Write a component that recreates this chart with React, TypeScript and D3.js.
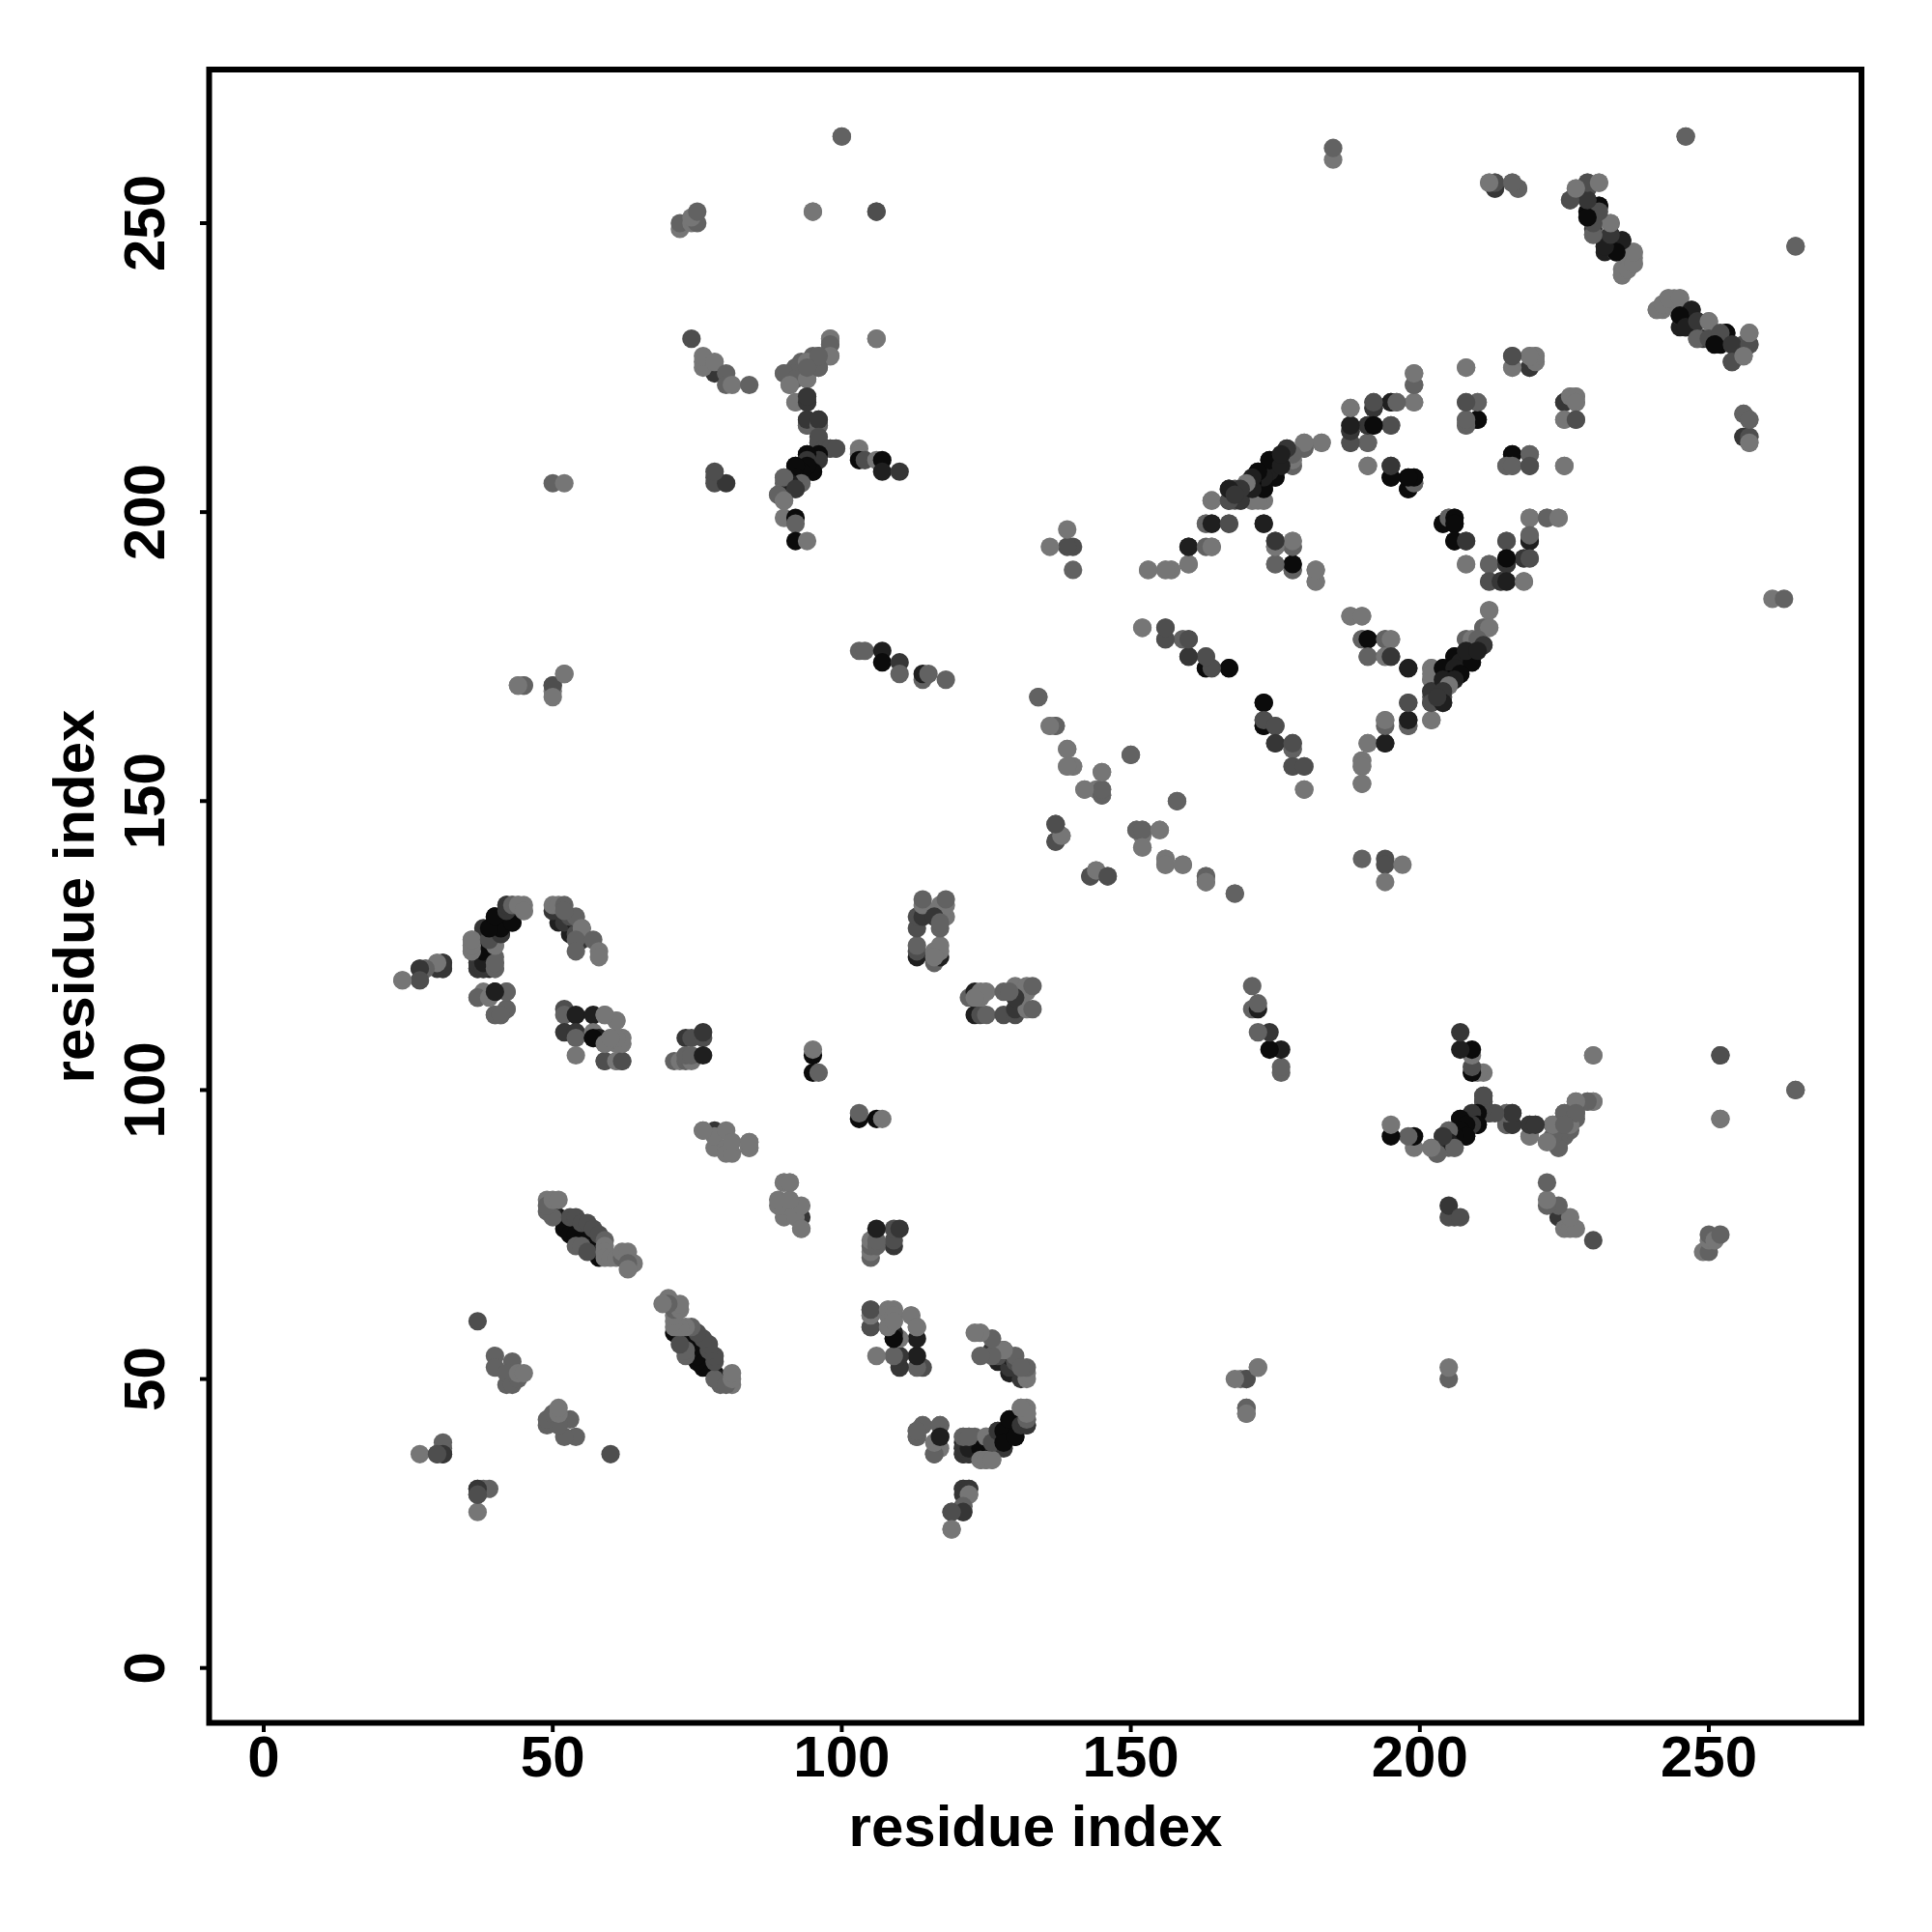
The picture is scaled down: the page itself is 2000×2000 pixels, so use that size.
import React from 'react';
import * as d3 from 'd3';

type C = [number, number, number];
// Each contact [i, j, strength level 1..6]; drawn at (i,j) and (j,i)
const tickValues = [0, 50, 100, 150, 200, 250];
const axisLabel = 'residue index';

const nearDiagonal: C[] = [
  [27,37,1],[30,37,3],[31,37,4],[31,38,2],[31,39,2],[37,31,4],[37,30,3],
  [37,60,3],[40,54,2],[40,52,2],[43,53,2],[42,49,2],[43,50,2],[42,51,2],[43,49,2],[44,50,2],[44,51,1],[45,51,1],
  [95,106,6],[95,107,1],[95,103,6],[96,103,2],
];
const helixOne: C[] = [
  [51,78,6],[50,79,5],[52,76,6],[52,77,6],[53,75,6],[54,75,6],[55,74,6],[56,74,6],[57,73,6],[58,72,6],[58,71,6],[54,73,2],[55,73,2],[56,72,3],
  [49,79,2],[50,78,2],[53,78,3],[54,78,3],[55,77,3],[56,77,3],[57,76,3],[58,75,3],[59,74,2],[59,73,1],[59,72,1],[59,71,1],[60,71,1],[61,71,1],
  [49,81,1],[49,80,2],[50,81,1],[51,81,1],[62,71,2],[62,72,1],[63,72,1],[64,70,1],[63,70,2],[63,69,1],
];
const helixTwo: C[] = [
  [37,121,5],[37,122,5],[38,121,5],[39,121,5],[38,122,4],[39,122,5],[40,121,2],[40,122,2],[40,123,2],[36,124,1],[36,125,1],[36,126,1],[37,124,2],[38,125,3],[40,125,1],[39,125,2],
  [38,127,4],[38,128,4],[41,127,6],[40,128,5],[40,130,6],[41,129,6],[42,129,6],[43,129,5],[42,132,4],[43,132,2],[44,132,1],[45,131,1],[45,132,1],[24,119,1],[27,119,2],[27,121,3],[28,121,2],[30,122,1],[30,121,4],[31,122,4],[31,121,4],
  [37,116,2],[38,117,1],[40,117,5],[42,117,3],[42,114,2],[41,113,2],[40,113,2],
];
const helixThree: C[] = [
  [53,127,5],[51,129,5],[50,131,4],[52,129,4],[54,129,5],[54,127,3],[55,128,5],[55,126,4],[53,130,3],[54,130,2],[50,132,1],[51,132,1],[52,132,2],[52,131,2],[55,128,1],
  [54,126,2],[54,124,2],[57,126,2],[58,124,1],[58,123,1],
  [52,114,3],[52,113,2],[54,113,5],[52,110,4],[54,110,4],[54,109,2],[54,106,1],[57,113,5],[59,113,1],[61,112,1],
  [58,109,4],[57,109,6],[57,110,1],[59,105,3],[59,108,1],[60,109,1],[61,109,1],[61,108,1],[62,109,1],[62,108,1],[61,105,1],[62,105,3],
  [73,109,4],[74,109,3],[76,109,3],[76,110,4],[71,105,2],[72,105,1],[73,105,2],[74,105,1],[73,106,2],[74,106,2],[76,106,5],
];
const centreGroup: C[] = [
  [93,76,2],[93,78,4],[90,78,1],[92,78,1],[76,93,1],[80,93,1],[80,90,1],[80,89,1],[81,89,1],[81,91,1],[84,90,2],[84,91,1],[90,84,1],[91,84,1],
  [113,123,5],[113,124,3],[113,125,2],[113,128,3],[113,130,3],[114,130,4],[114,132,1],[114,133,2],
  [116,122,2],[117,123,5],[116,124,1],[117,124,1],[117,125,1],[117,128,2],[117,130,5],[117,132,1],[118,130,1],[118,132,1],[118,133,2],[116,123,1],
  [116,130,4],[117,129,2],
];
const lowerGroup: C[] = [
  [105,59,3],[105,61,1],[105,62,3],[109,58,5],[109,57,6],[108,62,1],[109,62,1],[109,61,1],[108,59,1],[109,60,1],[112,61,1],[113,59,1],
  [116,37,2],[116,39,1],[113,40,2],[114,42,2],[117,42,2],[117,40,5],[113,41,2],
  [121,37,4],[122,37,4],[121,38,4],[122,38,5],[124,38,6],[121,40,2],[122,40,2],[124,36,1],[125,36,1],[126,36,1],[125,40,1],[126,39,3],[127,41,4],[128,41,6],[128,39,6],[129,43,6],[130,40,6],[131,42,4],[132,42,4],[132,43,2],[132,44,1],[131,45,1],
  [121,31,4],[122,31,4],[122,30,1],[121,28,2],[121,27,4],[119,27,3],[119,24,1],
  [206,78,3],
];
const sheetLeft: C[] = [
  [103,176,2],[104,176,2],[107,176,5],[107,174,6],[110,174,4],[110,172,2],[114,171,2],[114,172,5],[115,172,2],[118,171,2],
  [44,170,1],[45,170,2],[50,169,1],[50,170,2],[52,172,1],[50,205,2],[52,205,1],
  [170,50,3],[172,52,1],[168,50,1],[170,45,2],[170,44,1],[78,205,3],[80,205,4],[78,207,3],
  [72,249,1],[72,250,2],[74,250,1],[75,250,2],[74,251,1],[75,252,2],[95,252,1],[106,252,3],[100,265,2],[246,265,2],[185,261,1],[185,263,2],
  [74,230,3],[78,224,4],[76,225,1],[76,226,1],[76,227,1],[78,226,1],[80,224,2],[80,222,2],[81,222,1],[84,222,2],
];
const starGroup: C[] = [
  [98,230,1],[98,229,1],[106,230,1],[98,227,2],[95,227,2],[96,227,2],[96,225,3],[94,225,3],[92,225,2],[93,226,2],[93,224,3],[92,224,2],[91,224,2],[90,224,1],[91,222,1],[94,223,2],
  [92,219,1],[94,220,4],[94,219,4],[94,216,4],[94,215,3],[96,216,4],[96,215,2],[96,212,3],[96,211,3],[98,211,3],[99,211,3],
  [96,210,6],[94,210,6],[95,207,6],[93,207,5],[92,208,6],[91,206,6],[93,206,5],[90,206,1],[90,205,2],[92,204,3],[93,205,1],[89,203,1],[90,202,1],
  [90,199,1],[92,199,6],[92,198,2],[92,195,6],[94,195,1],
  [103,211,1],[103,210,1],[103,209,6],[104,209,3],[106,209,1],[107,209,6],[107,207,5],[110,207,4],
];
const arcGroup: C[] = [
  [174,209,6],[175,209,5],[176,209,5],[172,207,6],[175,206,6],[173,205,6],[173,204,6],[171,205,5],[171,204,6],[170,205,1],[167,204,5],[168,204,3],[169,204,4],[174,207,5],
  [167,202,5],[168,202,3],[169,202,4],[170,203,2],[171,202,1],[173,202,1],[164,202,1],[177,211,4],[178,210,2],[178,209,1],[178,208,2],[180,212,1],[180,211,2],[183,212,1],
  [163,198,2],[164,198,5],[167,198,3],[173,198,5],[160,194,5],[164,194,1],[160,191,2],[153,190,1],[156,190,1],[157,190,1],
  [175,195,4],[175,194,3],[178,195,1],[178,194,3],[175,191,2],[178,190,3],[178,191,6],[182,190,1],[182,188,1],
  [152,180,1],[156,178,3],[156,180,2],[159,178,1],[160,178,4],[160,175,4],[163,175,2],[163,173,6],[164,173,3],[167,173,6],
  [134,168,2],[136,163,1],[137,163,2],[139,159,1],[139,156,1],[140,156,1],[145,155,1],[142,152,1],[144,152,1],[145,152,2],[145,151,2],[150,158,2],[158,150,2],
  [137,146,3],[137,143,3],[138,144,1],[143,137,3],[144,138,1],[146,137,3],[151,145,2],[152,145,2],[155,145,1],[152,142,1],[156,140,1],[156,139,1],[159,139,1],[163,137,2],[163,136,1],[168,134,2],
  [173,167,6],[173,163,6],[173,164,3],[175,163,3],[175,160,4],[178,159,2],[178,160,3],[178,156,3],[180,156,3],[180,152,1],
  [190,157,1],[190,156,1],[190,153,1],[191,160,1],[194,160,5],[194,163,2],[194,164,1],[198,163,2],[198,164,5],[198,167,3],[202,164,1],
  [190,140,2],[194,140,3],[194,139,3],[197,139,1],[194,136,1],
];
const upperGroup: C[] = [
  [188,218,1],[188,215,5],[188,214,5],[188,212,3],[191,215,6],[192,215,6],[195,215,3],[191,212,2],[192,219,3],[192,218,4],[195,219,5],[196,219,2],[199,219,1],[199,222,2],[199,224,1],
  [191,208,1],[195,206,6],[195,208,4],[198,204,6],[199,205,2],[198,206,6],[199,206,5],
  [208,225,1],[208,219,2],[210,219,1],[208,215,1],[208,216,2],[210,216,6],
  [216,227,3],[216,225,1],[219,225,4],[219,227,1],[220,227,1],[220,226,1],[225,219,4],[226,220,1],[227,220,1],[227,219,1],[225,216,1],[227,216,3],
  [216,210,6],[219,210,2],[215,208,2],[216,208,2],[219,208,3],[225,208,1],
  [204,198,6],[205,199,2],[206,199,6],[206,198,6],[206,195,6],[208,195,4],[219,199,1],[222,199,2],[224,199,1],
  [215,195,3],[219,195,5],[219,196,2],[218,192,4],[219,192,3],[208,191,1],[212,191,2],[215,191,4],[215,192,6],[212,188,3],[214,188,4],[215,188,5],[218,188,1],
  [188,182,1],[190,182,1],[190,178,2],[191,178,6],[194,178,2],[195,178,1],[191,175,2],[194,175,1],[195,175,4],[198,173,5],
  [212,183,1],[211,180,2],[212,180,1],[208,178,2],[209,178,1],[210,178,2],[209,176,2],[211,177,4],[206,175,6],[207,174,5],[209,174,6],[208,176,5],[210,176,5],
  [202,173,1],[202,171,1],[202,172,1],[202,169,4],[202,167,3],[204,173,6],[206,173,5],[205,171,6],[204,171,5],[207,172,6],[206,171,5],[205,170,1],[204,169,4],[204,167,5],[203,168,4],
];
const cTerminal: C[] = [
  [212,257,1],[213,257,2],[213,256,3],[216,257,2],[217,256,2],[256,217,2],[256,213,4],[257,213,3],[257,216,2],[257,212,1],
  [226,254,3],[227,256,1],[229,256,3],[229,257,2],[231,257,1],[229,252,6],[229,254,3],[231,253,6],[230,251,5],[231,251,4],[230,249,4],[230,248,2],[232,247,5],[232,246,6],[232,245,5],[233,248,4],[233,250,1],[235,247,4],[234,245,3],[236,244,2],[237,245,1],[237,244,1],[236,243,1],[235,242,1],[235,241,1],[237,243,1],[235,245,1],
];
const tailContacts: C[] = [
  [230,106,1],[230,98,1],[229,98,2],[227,98,1],[225,92,2],[224,92,2],[224,90,2],[223,92,2],[222,91,1],[223,94,1],[226,94,1],[225,96,2],[227,96,2],[225,94,2],
  [219,92,1],[219,94,4],[220,94,4],[215,94,2],[216,94,4],[215,96,2],[216,96,4],[212,96,3],[213,96,3],[211,97,3],[211,98,3],[211,99,3],
  [210,96,6],[209,96,4],[210,94,6],[209,94,4],[207,95,6],[208,94,6],[207,93,6],[208,92,6],[206,92,6],[205,93,2],[205,91,5],[206,90,2],[204,92,4],[203,89,2],[202,90,1],
  [234,245,2],[241,235,1],[242,236,1],[243,237,1],[245,237,1],[247,235,5],[245,234,6],[246,232,5],[248,233,4],[250,233,1],[248,230,2],[250,230,3],[253,231,6],[252,231,3],[251,229,6],[254,229,4],[254,226,3],[257,229,3],[257,231,1],[256,227,1],
  [252,106,3],[252,95,1],[265,100,2],[265,246,2],
];

const allGroups = [nearDiagonal, helixOne, helixTwo, helixThree, centreGroup, lowerGroup, sheetLeft, starGroup, arcGroup, upperGroup, cTerminal, tailContacts];

const grey = d3.scaleOrdinal<number, string>().domain([1, 2, 3, 4, 5, 6]).range(['#767676', '#626262', '#4e4e4e', '#363636', '#1f1f1f', '#0b0b0b']);
const x = d3.scaleLinear().domain([0, 250]).range([273, 1769]);
const y = d3.scaleLinear().domain([0, 250]).range([1726.7, 231]);
const font = '"Liberation Sans", Arial, sans-serif';

export default function App() {
  const pts: { px: number; py: number; c: string }[] = [];
  allGroups.forEach(g => g.forEach(([a, b, s]) => {
    pts.push({ px: x(a), py: y(b), c: grey(s) });
    pts.push({ px: x(b), py: y(a), c: grey(s) });
  }));
  return (
    <svg width={2000} height={2000} style={{ position: 'absolute', left: 0, top: 0, background: '#fff' }}>
      {pts.map((p, i) => <circle key={i} cx={p.px} cy={p.py} r={9.6} fill={p.c} />)}
      <rect x={216.5} y={72} width={1710.5} height={1711.5} fill="none" stroke="#000" strokeWidth={6} />
      {tickValues.map(t => (
        <g key={t}>
          <line x1={x(t)} x2={x(t)} y1={1786} y2={1793} stroke="#000" strokeWidth={4} />
          <text x={x(t)} y={1839} textAnchor="middle" fontFamily={font} fontWeight="bold" fontSize={60}>{t}</text>
          <line x1={207} x2={214} y1={y(t)} y2={y(t)} stroke="#000" strokeWidth={4} />
          <text transform={`translate(170,${y(t)}) rotate(-90)`} textAnchor="middle" fontFamily={font} fontWeight="bold" fontSize={60}>{t}</text>
        </g>
      ))}
      <text x={1072} y={1911} textAnchor="middle" fontFamily={font} fontWeight="bold" fontSize={60}>{axisLabel}</text>
      <text transform="translate(97,928) rotate(-90)" textAnchor="middle" fontFamily={font} fontWeight="bold" fontSize={60}>{axisLabel}</text>
    </svg>
  );
}
